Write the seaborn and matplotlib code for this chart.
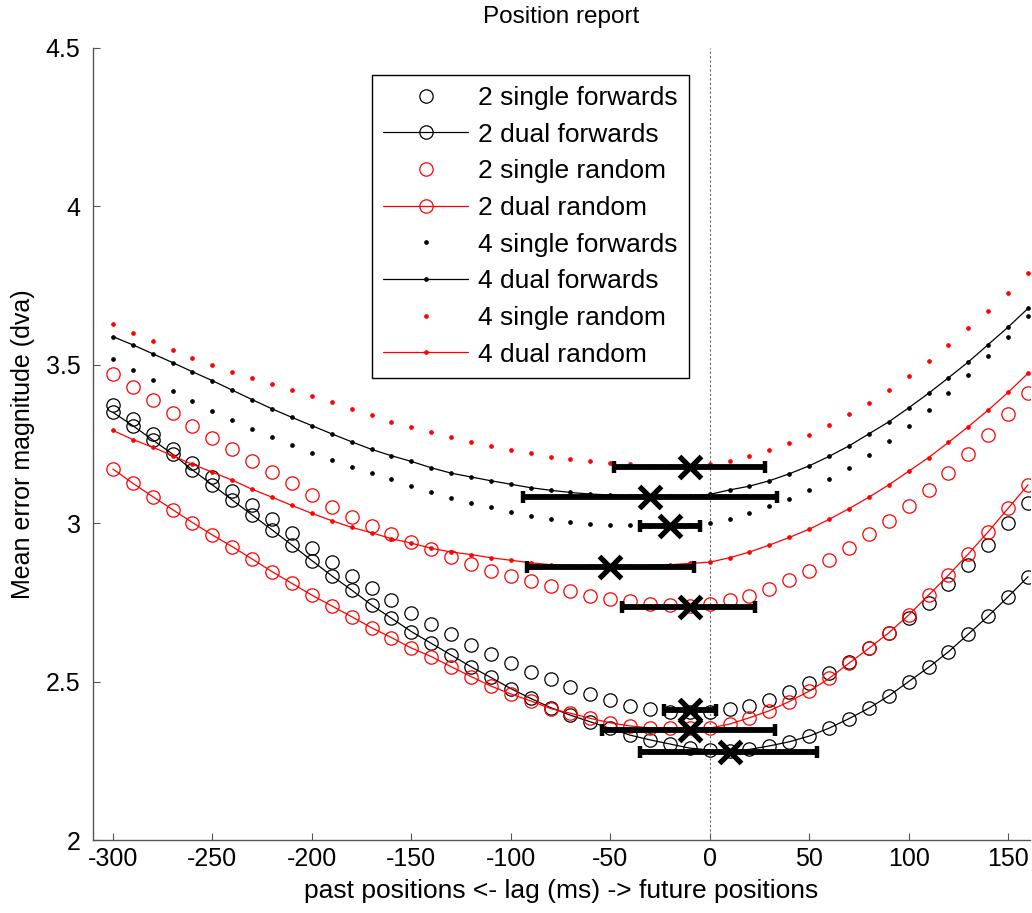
import matplotlib
matplotlib.use("Agg")
import numpy as np
import pandas as pd
import seaborn as sns
import matplotlib.pyplot as plt
from matplotlib.ticker import FormatStrFormatter

# ---------------- data ----------------
lags = list(range(-300, 161, 10))

s2_single_fwd = [3.373, 3.328, 3.281, 3.233, 3.191, 3.147, 3.102, 3.057, 3.012, 2.968, 2.922, 2.878, 2.834, 2.796, 2.758, 2.718,
                 2.682, 2.650, 2.616, 2.587, 2.560, 2.531, 2.507, 2.482, 2.461, 2.442, 2.423, 2.413, 2.405, 2.405, 2.405, 2.413,
                 2.424, 2.442, 2.468, 2.497, 2.528, 2.563, 2.606, 2.652, 2.700, 2.749, 2.808, 2.868, 2.931, 3.000, 3.065]
s2_dual_fwd = [3.350, 3.308, 3.263, 3.218, 3.168, 3.121, 3.073, 3.026, 2.979, 2.931, 2.882, 2.834, 2.789, 2.742, 2.700, 2.658,
               2.621, 2.584, 2.547, 2.513, 2.478, 2.447, 2.418, 2.394, 2.373, 2.352, 2.331, 2.316, 2.303, 2.290, 2.284, 2.281,
               2.286, 2.297, 2.310, 2.328, 2.353, 2.383, 2.416, 2.455, 2.500, 2.545, 2.594, 2.650, 2.707, 2.768, 2.831]
s2_single_rnd = [3.471, 3.431, 3.389, 3.347, 3.307, 3.269, 3.233, 3.197, 3.163, 3.126, 3.088, 3.052, 3.021, 2.991, 2.966, 2.942,
                 2.918, 2.892, 2.871, 2.850, 2.833, 2.818, 2.802, 2.787, 2.770, 2.762, 2.754, 2.744, 2.742, 2.740, 2.746, 2.758,
                 2.771, 2.793, 2.821, 2.850, 2.884, 2.921, 2.965, 3.007, 3.054, 3.105, 3.159, 3.217, 3.277, 3.344, 3.410]
s2_dual_rnd = [3.171, 3.126, 3.084, 3.043, 3.002, 2.963, 2.926, 2.887, 2.847, 2.810, 2.773, 2.739, 2.705, 2.670, 2.639, 2.606,
               2.579, 2.547, 2.516, 2.486, 2.461, 2.439, 2.415, 2.400, 2.384, 2.370, 2.360, 2.354, 2.352, 2.352, 2.353, 2.366,
               2.386, 2.408, 2.437, 2.470, 2.510, 2.558, 2.605, 2.654, 2.710, 2.773, 2.836, 2.903, 2.973, 3.047, 3.121]
s4_single_fwd = [3.517, 3.484, 3.451, 3.418, 3.386, 3.353, 3.325, 3.297, 3.271, 3.247, 3.223, 3.199, 3.177, 3.157, 3.139, 3.119,
                 3.097, 3.081, 3.065, 3.050, 3.036, 3.024, 3.012, 3.005, 2.999, 2.995, 2.993, 2.991, 2.990, 2.993, 3.000, 3.013,
                 3.031, 3.053, 3.077, 3.106, 3.139, 3.175, 3.215, 3.259, 3.307, 3.356, 3.410, 3.468, 3.527, 3.589, 3.654]
s4_dual_fwd = [3.589, 3.563, 3.535, 3.507, 3.478, 3.450, 3.420, 3.390, 3.361, 3.334, 3.308, 3.282, 3.257, 3.233, 3.213, 3.195,
               3.175, 3.158, 3.146, 3.134, 3.123, 3.112, 3.104, 3.097, 3.092, 3.089, 3.086, 3.084, 3.085, 3.087, 3.091, 3.105,
               3.117, 3.134, 3.156, 3.181, 3.211, 3.244, 3.282, 3.320, 3.364, 3.410, 3.459, 3.509, 3.564, 3.619, 3.678]
s4_single_rnd = [3.629, 3.601, 3.575, 3.548, 3.522, 3.499, 3.478, 3.459, 3.440, 3.420, 3.402, 3.382, 3.360, 3.341, 3.320, 3.305,
                 3.287, 3.271, 3.257, 3.244, 3.231, 3.221, 3.210, 3.202, 3.195, 3.191, 3.186, 3.181, 3.179, 3.180, 3.188, 3.196,
                 3.211, 3.230, 3.252, 3.279, 3.310, 3.344, 3.380, 3.421, 3.466, 3.513, 3.562, 3.615, 3.671, 3.728, 3.789]
s4_dual_rnd = [3.293, 3.264, 3.240, 3.213, 3.186, 3.161, 3.136, 3.107, 3.082, 3.056, 3.031, 3.008, 2.987, 2.970, 2.951, 2.937,
               2.921, 2.909, 2.901, 2.891, 2.883, 2.875, 2.869, 2.866, 2.864, 2.863, 2.864, 2.866, 2.869, 2.873, 2.877, 2.891,
               2.909, 2.931, 2.955, 2.981, 3.012, 3.046, 3.082, 3.121, 3.164, 3.207, 3.255, 3.305, 3.357, 3.413, 3.473]

labels = ["2 single forwards", "2 dual forwards", "2 single random", "2 dual random",
          "4 single forwards", "4 dual forwards", "4 single random", "4 dual random"]

# minima with confidence intervals (lag in ms)
min_lag = [-10, -30, -20, -50, -10, -10, -10, 10]
min_err = [3.177, 3.082, 2.990, 2.862, 2.737, 2.410, 2.347, 2.279]
ci_low = [-48, -94, -35, -92, -44, -23, -54, -35]
ci_high = [28, 34, -5, -8, 23, 3, 33, 54]

x_ticks = [-300, -250, -200, -150, -100, -50, 0, 50, 100, 150]
y_ticks = [2, 2.5, 3, 3.5, 4, 4.5]

# ---------------- style ----------------
sns.set_theme(style="ticks")
plt.rcParams["font.family"] = ["Liberation Sans", "DejaVu Sans"]
plt.rcParams["axes.unicode_minus"] = False
plt.rcParams["text.color"] = "black"
plt.rcParams["axes.labelcolor"] = "black"

fig = plt.figure(figsize=(10.32, 9.13), dpi=100)
ax = fig.add_axes([93 / 1032, 1 - 840 / 913, 937 / 1032, 792 / 913])

series = [s2_single_fwd, s2_dual_fwd, s2_single_rnd, s2_dual_rnd,
          s4_single_fwd, s4_dual_fwd, s4_single_rnd, s4_dual_rnd]
colors = ["black", "black", "red", "red", "black", "black", "red", "red"]

for i, (vals, lab, col) in enumerate(zip(series, labels, colors)):
    big = i < 4
    dual = (i % 2 == 1)
    df = pd.DataFrame({"lag": lags, "err": vals})
    sns.lineplot(data=df, x="lag", y="err", ax=ax, label=lab, color=col,
                 estimator=None, errorbar=None, sort=False,
                 linestyle="-" if dual else "",
                 linewidth=0.9,
                 marker="o",
                 markersize=9.6 if big else 2.7,
                 markerfacecolor="none" if big else col,
                 markeredgecolor=col,
                 markeredgewidth=0.9 if big else 0.6)

ax.axvline(0, color="#666666", linestyle=(0, (2, 2)), linewidth=0.8, zorder=1)

ml = np.array(min_lag, dtype=float)
xerr = [ml - np.array(ci_low), np.array(ci_high) - ml]
ax.errorbar(min_lag, min_err, xerr=xerr, fmt="none", ecolor="black",
            elinewidth=4.2, capsize=4.5, capthick=3.2, zorder=5)
ax.plot(min_lag, min_err, linestyle="", marker="x", markersize=16.5,
        markeredgewidth=3.8, color="black", zorder=6)

ax.set_xlim(-310, 161)
ax.set_ylim(2, 4.5)
ax.set_xticks(x_ticks)
ax.set_yticks(y_ticks)
ax.yaxis.set_major_formatter(FormatStrFormatter("%g"))

for sp in ["top", "right"]:
    ax.spines[sp].set_visible(False)
for sp in ["left", "bottom"]:
    ax.spines[sp].set_color("#555555")
    ax.spines[sp].set_linewidth(1.0)
ax.tick_params(direction="in", length=5, width=0.8, colors="#555555",
               labelcolor="black", labelsize=18)
ax.tick_params(axis="y", pad=9)
ax.tick_params(axis="x", pad=5)

ax.set_xlabel("past positions <- lag (ms) -> future positions", fontsize=19,
              labelpad=6, color="black")
ax.set_ylabel("Mean error magnitude (dva)", fontsize=18, labelpad=8, color="black")
ax.set_title("Position report", fontsize=17.5, pad=18, color="black")

leg = ax.legend(loc="upper left", bbox_to_anchor=(0.298, 0.966), borderaxespad=0,
                frameon=True, fancybox=False, edgecolor="black", framealpha=1,
                fontsize=19, handlelength=3.2, labelspacing=0.48, borderpad=0.42,
                handletextpad=0.4, numpoints=1, labelcolor="black")
leg.get_frame().set_linewidth(1.0)

fig.savefig("out.png", dpi=100)
